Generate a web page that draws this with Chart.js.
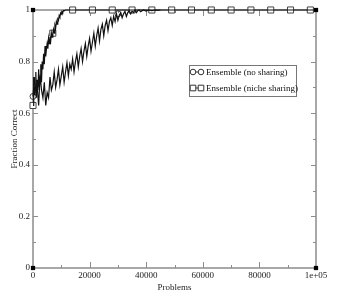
<!DOCTYPE html>
<html>
<head>
<meta charset="utf-8">
<script src="https://cdn.jsdelivr.net/npm/chart.js@4.4.0/dist/chart.umd.min.js"></script>
<style>
  html, body { margin: 0; padding: 0; background: #fff; }
  .Chart { width: 338px; height: 293px; position: relative; }
</style>
</head>
<body>
<div class="Chart"><canvas id="myChart"></canvas></div>
<script>
// Ensemble (no sharing) - slow curve
var noShareX = [0, 500, 1000, 1500, 2000, 2500, 3000, 3500, 4000, 4500, 5000, 5500, 6000, 6500, 7000, 7500,
  8000, 8500, 9000, 9500, 10000, 10500, 11000, 11500, 12000, 12500, 13000, 13500, 14000, 14500, 15000, 15500,
  16000, 16500, 17000, 17500, 18000, 18500, 19000, 19500, 20000, 20500, 21000, 21500, 22000, 22500, 23000, 23500,
  24000, 24500, 25000, 25500, 26000, 26500, 27000, 27500, 28000, 28500, 29000, 29500, 30000, 30500, 31000, 31500,
  32000, 32500, 33000, 33500, 34000, 34500, 35000, 35500, 36000, 36500, 37000, 37500, 38000, 39000, 40000, 41000,
  42000, 43000, 44000, 45000];
var noShareY = [0.665, 0.74, 0.68, 0.70, 0.63, 0.75, 0.69, 0.66, 0.72, 0.63, 0.68, 0.66, 0.74, 0.69, 0.71, 0.76,
  0.70, 0.73, 0.77, 0.71, 0.745, 0.78, 0.72, 0.76, 0.795, 0.745, 0.79, 0.77, 0.81, 0.76, 0.80, 0.83,
  0.78, 0.82, 0.85, 0.80, 0.84, 0.87, 0.82, 0.86, 0.89, 0.84, 0.875, 0.91, 0.86, 0.90, 0.93, 0.88,
  0.925, 0.945, 0.90, 0.94, 0.96, 0.92, 0.955, 0.97, 0.94, 0.975, 0.955, 0.985, 0.96, 0.98, 0.99, 0.97,
  0.985, 0.995, 0.975, 0.99, 0.998, 0.985, 0.995, 0.99, 1.0, 0.99, 0.997, 1.0, 0.993, 1.0, 0.996, 1.0,
  0.998, 1.0, 0.999, 1.0];

// Ensemble (niche sharing) - steep curve
var nicheX = [0, 250, 500, 750, 1000, 1250, 1500, 1750, 2000, 2250, 2500, 2750, 3000, 3250, 3500, 3750,
  4000, 4250, 4500, 4750, 5000, 5250, 5500, 5750, 6000, 6250, 6500, 6750, 7000, 7250, 7500, 7750,
  8000, 8250, 8500, 8750, 9000, 9250, 9500, 9750, 10000, 10250, 10500, 10750, 11000, 11500, 100000];
var nicheY = [0.63, 0.74, 0.67, 0.70, 0.76, 0.66, 0.73, 0.69, 0.77, 0.70, 0.74, 0.79, 0.72, 0.80, 0.77, 0.83,
  0.79, 0.86, 0.82, 0.85, 0.87, 0.85, 0.89, 0.87, 0.895, 0.88, 0.91, 0.895, 0.91, 0.925, 0.91, 0.94,
  0.93, 0.955, 0.945, 0.965, 0.96, 0.978, 0.972, 0.988, 0.984, 0.994, 0.99, 0.998, 0.997, 1.0, 1.0];

// symbols
var squareX = [0, 7000, 14000, 21000, 28000, 35000, 42000, 49000, 56000, 63000, 70000, 77000, 84000, 91000, 98000];
var squareY = [0.63, 0.91, 1, 1, 1, 1, 1, 1, 1, 1, 1, 1, 1, 1, 1];
var circleX = [0, 30000];
var circleY = [0.665, 0.985];
var cornerX = [0, 0, 100000, 100000];
var cornerY = [0, 1, 0, 1];

var xTickLabels = ["0", "20000", "40000", "60000", "80000", "1e+05"];
var yTickLabels = ["0", "0.2", "0.4", "0.6", "0.8", "1"];
var legendLabels = ["Ensemble (no sharing)", "Ensemble (niche sharing)"];

function pts(xs, ys) {
  return xs.map(function (x, i) { return { x: x, y: ys[i] }; });
}

var serif = "'Liberation Serif', 'DejaVu Serif', serif";
var axisColor = "#8c8c8c";

// frame with inward ticks on all four sides
var framePlugin = {
  id: "frame",
  beforeDatasetsDraw: function (chart) {
    var ctx = chart.ctx, a = chart.chartArea;
    var xs = chart.scales.x, ys = chart.scales.y;
    ctx.save();
    ctx.strokeStyle = axisColor;
    ctx.lineWidth = 1.5;
    ctx.strokeRect(a.left, a.top, a.right - a.left, a.bottom - a.top);
    ctx.lineWidth = 1;
    ctx.beginPath();
    for (var v = 10000; v < 100000; v += 10000) {
      var px = Math.round(xs.getPixelForValue(v)) + 0.5;
      var len = v % 20000 === 0 ? 6 : 3;
      ctx.moveTo(px, a.bottom); ctx.lineTo(px, a.bottom - len);
      ctx.moveTo(px, a.top); ctx.lineTo(px, a.top + len);
    }
    for (var k = 1; k < 10; k++) {
      var py = Math.round(ys.getPixelForValue(k / 10)) + 0.5;
      var l2 = k % 2 === 0 ? 5 : 3;
      ctx.moveTo(a.left, py); ctx.lineTo(a.left + l2, py);
      ctx.moveTo(a.right, py); ctx.lineTo(a.right - l2, py);
    }
    ctx.stroke();
    ctx.restore();
  }
};

// boxed legend inside the plot
var legendPlugin = {
  id: "boxLegend",
  afterDraw: function (chart) {
    var ctx = chart.ctx;
    var bx = 189, by = 65, bw = 107, bh = 31;
    ctx.save();
    ctx.fillStyle = "#fff";
    ctx.fillRect(bx, by, bw, bh);
    ctx.strokeStyle = "#777";
    ctx.lineWidth = 1;
    ctx.strokeRect(bx + 0.5, by + 0.5, bw, bh);
    var rows = [72, 88];
    ctx.strokeStyle = "#333";
    for (var i = 0; i < 2; i++) {
      var y = rows[i];
      ctx.beginPath();
      ctx.moveTo(193, y); ctx.lineTo(201, y);
      ctx.stroke();
      [193, 201].forEach(function (cx) {
        ctx.beginPath();
        if (i === 0) ctx.arc(cx, y, 2.8, 0, Math.PI * 2);
        else ctx.rect(cx - 2.8, y - 2.8, 5.6, 5.6);
        ctx.fillStyle = "#fff";
        ctx.fill();
        ctx.stroke();
      });
      ctx.fillStyle = "#111";
      ctx.font = "9px " + serif;
      ctx.textBaseline = "middle";
      ctx.fillText(legendLabels[i], 206, y + 0.5);
    }
    ctx.restore();
  }
};

var ctx = document.getElementById("myChart").getContext("2d");

new Chart(ctx, {
  type: "scatter",
  data: {
    datasets: [
      {
        label: "corners",
        data: pts(cornerX, cornerY),
        pointStyle: "rect",
        pointRadius: 3,
        backgroundColor: "#000",
        borderColor: "#000",
        borderWidth: 0,
        clip: false
      },
      {
        label: "Ensemble (no sharing)",
        data: pts(noShareX, noShareY),
        showLine: true,
        borderColor: "#111",
        borderWidth: 1.2,
        pointRadius: 0,
        clip: false
      },
      {
        label: "Ensemble (niche sharing)",
        data: pts(nicheX, nicheY),
        showLine: true,
        borderColor: "#111",
        borderWidth: 1.2,
        pointRadius: 0,
        clip: false
      },
      {
        label: "niche symbols",
        data: pts(squareX, squareY),
        pointStyle: "rect",
        pointRadius: 4.3,
        backgroundColor: "#fff",
        borderColor: "#444",
        borderWidth: 1,
        clip: false
      },
      {
        label: "no sharing symbols",
        data: pts(circleX, circleY),
        pointStyle: "circle",
        pointRadius: 3,
        backgroundColor: "rgba(255,255,255,0)",
        borderColor: "#444",
        borderWidth: 1,
        clip: false
      }
    ]
  },
  options: {
    responsive: true,
    maintainAspectRatio: false,
    animation: false,
    events: [],
    layout: { padding: { top: 10, right: 22, left: 0, bottom: 0 } },
    plugins: {
      legend: { display: false },
      tooltip: { enabled: false }
    },
    scales: {
      x: {
        type: "linear",
        min: 0,
        max: 100000,
        afterFit: function (s) { s.height = 25; },
        afterBuildTicks: function (s) {
          s.ticks = xTickLabels.map(function (t, i) { return { value: i * 20000 }; });
        },
        ticks: {
          padding: 2,
          color: "#222",
          maxRotation: 0,
          autoSkip: false,
          font: { family: serif, size: 9 },
          callback: function (value, index) { return xTickLabels[index]; }
        },
        grid: { display: false, drawTicks: false },
        border: { display: false },
        title: {
          display: true,
          text: "Problems",
          color: "#222",
          font: { family: serif, size: 9 },
          padding: { top: 0, bottom: 0 }
        }
      },
      y: {
        min: 0,
        max: 1,
        afterFit: function (s) { s.width = 33; },
        afterBuildTicks: function (s) {
          s.ticks = yTickLabels.map(function (t, i) { return { value: i * 0.2 }; });
        },
        ticks: {
          padding: 3,
          color: "#222",
          font: { family: serif, size: 9 },
          callback: function (value, index) { return yTickLabels[index]; }
        },
        grid: { display: false, drawTicks: false },
        border: { display: false },
        title: {
          display: true,
          text: "Fraction Correct",
          color: "#222",
          font: { family: serif, size: 9 },
          padding: { top: 9, bottom: 0 }
        }
      }
    }
  },
  plugins: [framePlugin, legendPlugin]
});
</script>
</body>
</html>
